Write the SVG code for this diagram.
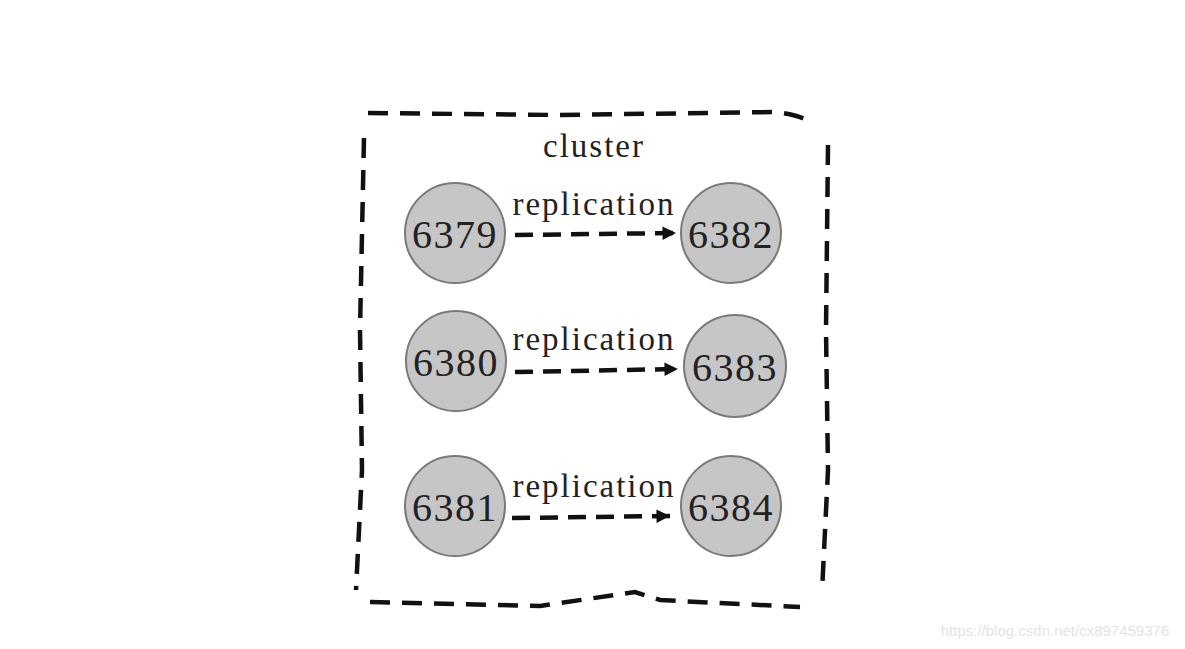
<svg xmlns="http://www.w3.org/2000/svg" width="1185" height="649" viewBox="0 0 1185 649">
<style>
.node circle{fill:#c6c6c6;stroke:#7a7a7a;stroke-width:2}
.node text{font-family:"Liberation Serif",serif;font-size:40px;letter-spacing:1.5px;fill:#222;text-anchor:middle}
.lbl{font-family:"Liberation Serif",serif;font-size:33px;letter-spacing:2px;fill:#222;text-anchor:middle}
.edge{fill:none;stroke:#111;stroke-width:4.5;stroke-dasharray:18,10}
.border{fill:none;stroke:#111;stroke-width:4.5;stroke-dasharray:20,12;stroke-linecap:butt}
</style>
<defs>
<marker id="ah" viewBox="0 0 10 10" refX="10" refY="5" markerWidth="3.4" markerHeight="3" orient="auto" markerUnits="strokeWidth">
<path d="M0,0 L10,5 L0,10 z" fill="#111"/>
</marker>
</defs>
<rect width="1185" height="649" fill="#fff"/>
<g id="cluster">
<path class="border" d="M368,113 L560,115 L775,112 Q800,115 810,122"/>
<path class="border" d="M828,145 L826,330 L828,470 L822,592"/>
<path class="border" d="M364,138 L360,330 L362,470 L356,590"/>
<path class="border" d="M370,602 L540,606 L635,592 L660,600 L800,607"/>
<text class="lbl" x="594" y="157">cluster</text>
</g>
<g id="connectors">
<path class="edge" d="M515,235 L676,233" marker-end="url(#ah)"/>
<path class="edge" d="M515,372 L678,369" marker-end="url(#ah)"/>
<path class="edge" d="M512,518 L670,516" marker-end="url(#ah)"/>
<text class="lbl" x="594" y="215">replication</text>
<text class="lbl" x="594" y="350">replication</text>
<text class="lbl" x="594" y="497">replication</text>
</g>
<g id="n6379" class="node"><circle cx="455" cy="233" r="50"/><text x="455" y="248">6379</text></g>
<g id="n6382" class="node"><circle cx="731" cy="233" r="50"/><text x="731" y="248">6382</text></g>
<g id="n6380" class="node"><circle cx="456" cy="361" r="50"/><text x="456" y="376">6380</text></g>
<g id="n6383" class="node"><circle cx="735" cy="366" r="51"/><text x="735" y="381">6383</text></g>
<g id="n6381" class="node"><circle cx="455" cy="506" r="50"/><text x="455" y="521">6381</text></g>
<g id="n6384" class="node"><circle cx="731" cy="506" r="50"/><text x="731" y="521">6384</text></g>
<text x="1055" y="636" font-family="Liberation Sans,sans-serif" font-size="15" fill="#e4e4e4" text-anchor="middle">https://blog.csdn.net/cx897459376</text>
</svg>
